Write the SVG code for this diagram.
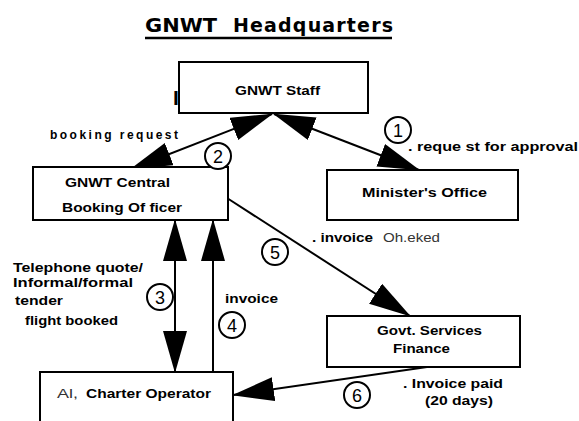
<svg xmlns="http://www.w3.org/2000/svg" width="579" height="421" viewBox="0 0 579 421">
<style>
.box{fill:#fff;stroke:#000;stroke-width:2}
.b{font-family:"Liberation Sans",Arial,sans-serif;font-weight:bold;font-size:12px;fill:#000}
.r{font-family:"Liberation Sans",Arial,sans-serif;font-size:12px;fill:#333}
.ln{stroke:#000;stroke-width:2;fill:none}
.c{fill:#fff;stroke:#000;stroke-width:2}
.d{font-family:"Liberation Sans",Arial,sans-serif;font-size:18px;fill:#000;text-anchor:middle}
</style>
<defs>
<marker id="ah" markerUnits="userSpaceOnUse" markerWidth="44" markerHeight="26" refX="41" refY="12" orient="auto-start-reverse" viewBox="0 0 44 26">
<path d="M0,0 L42,12 L0,24 z" fill="#000"/>
</marker>
</defs>
<rect width="579" height="421" fill="#fff"/>
<g id="title">
<text x="145" y="32" font-family="'DejaVu Sans',sans-serif" font-weight="bold" font-size="20" textLength="72" lengthAdjust="spacingAndGlyphs">GNWT</text>
<text x="233" y="32" font-family="'DejaVu Sans',sans-serif" font-weight="bold" font-size="19" textLength="160" lengthAdjust="spacing">Headquarters</text>
<line x1="145" y1="38" x2="392" y2="38" stroke="#000" stroke-width="2.5"/>
</g>
<g id="connectors">
<line class="ln" x1="272" y1="114" x2="131" y2="169" marker-start="url(#ah)" marker-end="url(#ah)"/>
<line class="ln" x1="274" y1="114" x2="419" y2="170" marker-start="url(#ah)" marker-end="url(#ah)"/>
<line class="ln" x1="227" y1="198" x2="410" y2="316" marker-end="url(#ah)"/>
<line class="ln" x1="175" y1="220" x2="175" y2="372" marker-start="url(#ah)" marker-end="url(#ah)"/>
<line class="ln" x1="213" y1="372" x2="213" y2="220" marker-end="url(#ah)"/>
<line class="ln" x1="427" y1="367" x2="233" y2="395" marker-end="url(#ah)"/>
</g>
<g id="staff">
<rect class="box" x="179" y="62" width="189" height="51"/>
<text class="b" x="235" y="95" textLength="85" lengthAdjust="spacingAndGlyphs">GNWT Staff</text>
<text class="b" x="173" y="105" style="font-size:21px">I</text>
</g>
<g id="central">
<rect class="box" x="33" y="167" width="195" height="53"/>
<text class="b" x="65" y="187" textLength="105" lengthAdjust="spacingAndGlyphs">GNWT Central</text>
<text class="b" x="62" y="212" textLength="120" lengthAdjust="spacingAndGlyphs">Booking Of ficer</text>
</g>
<g id="minister">
<rect class="box" x="327" y="170" width="191" height="50"/>
<text class="b" x="362" y="197" textLength="125" lengthAdjust="spacingAndGlyphs">Minister's Office</text>
</g>
<g id="finance">
<rect class="box" x="327" y="316" width="193" height="51"/>
<text class="b" x="377" y="335" textLength="105" lengthAdjust="spacingAndGlyphs">Govt. Services</text>
<text class="b" x="393" y="353" textLength="57" lengthAdjust="spacingAndGlyphs">Finance</text>
</g>
<g id="charter">
<path class="box" d="M40,430 L40,372 L233,372 L233,430"/>
<text class="r" x="57" y="398" textLength="21" lengthAdjust="spacingAndGlyphs">Al,</text>
<text class="b" x="86" y="398" textLength="125" lengthAdjust="spacingAndGlyphs">Charter Operator</text>
</g>
<g id="labels">
<text class="b" x="50" y="139" textLength="128" lengthAdjust="spacing">booking  request</text>
<text class="b" x="408" y="151" textLength="170" lengthAdjust="spacingAndGlyphs">. reque st for approval</text>
<text class="b" x="312" y="242" textLength="61" lengthAdjust="spacingAndGlyphs">. invoice</text>
<text class="r" x="383" y="242" textLength="57" lengthAdjust="spacingAndGlyphs">Oh.eked</text>
<text class="b" x="13" y="272" textLength="130" lengthAdjust="spacingAndGlyphs">Telephone quote/</text>
<text class="b" x="13" y="287" textLength="120" lengthAdjust="spacingAndGlyphs">Informal/formal</text>
<text class="b" x="15" y="305" textLength="48" lengthAdjust="spacingAndGlyphs">tender</text>
<text class="b" x="25" y="325" textLength="93" lengthAdjust="spacingAndGlyphs">flight booked</text>
<text class="b" x="225" y="303" textLength="53" lengthAdjust="spacingAndGlyphs">invoice</text>
<text class="b" x="403" y="388" textLength="100" lengthAdjust="spacingAndGlyphs">. Invoice paid</text>
<text class="b" x="425" y="405" textLength="68" lengthAdjust="spacingAndGlyphs">(20 days)</text>
</g>
<g id="steps">
<circle class="c" cx="398" cy="130" r="13"/><text class="d" x="398" y="137">1</text>
<circle class="c" cx="218" cy="156" r="13"/><text class="d" x="218" y="163">2</text>
<circle class="c" cx="160" cy="297" r="13"/><text class="d" x="160" y="304">3</text>
<circle class="c" cx="232" cy="325" r="13"/><text class="d" x="232" y="332">4</text>
<circle class="c" cx="275" cy="252" r="13"/><text class="d" x="275" y="259">5</text>
<circle class="c" cx="357" cy="395" r="13"/><text class="d" x="357" y="402">6</text>
</g>
</svg>
